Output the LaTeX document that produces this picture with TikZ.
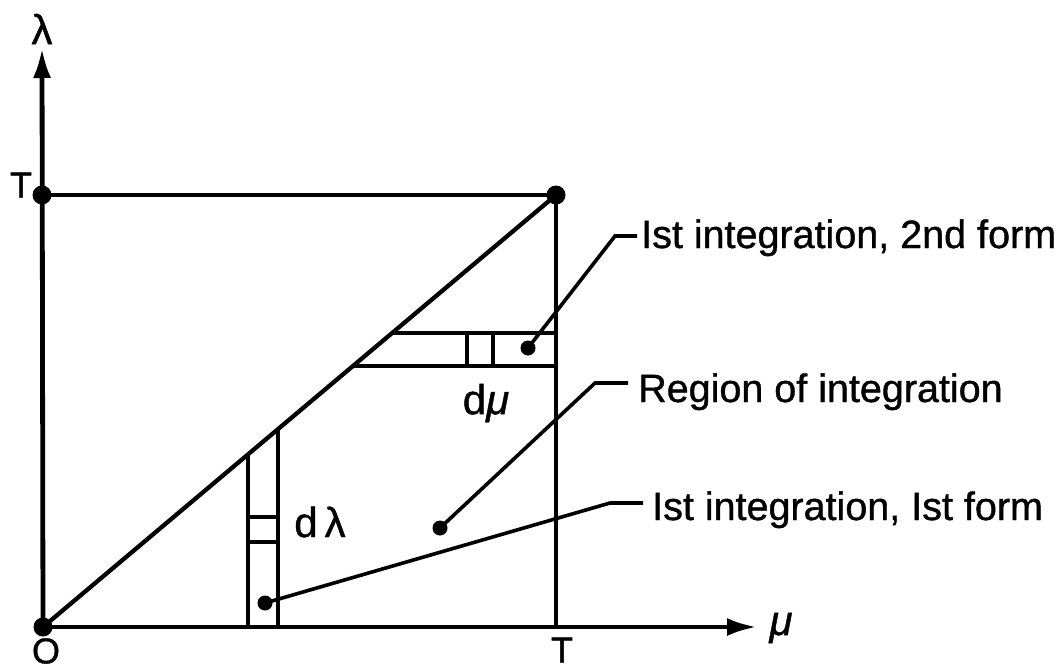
\documentclass[tikz,border=0pt]{standalone}
\usepackage{fontspec}
\setmainfont{Liberation Sans}
\newfontfamily\lett[FakeBold=1]{Liberation Sans}
\usetikzlibrary{arrows.meta}
\begin{document}
\begin{tikzpicture}[x=1pt,y=-1pt,
  ln/.style={line width=4.3pt},
  ax/.style={line width=4.8pt},
  lead/.style={line width=3.6pt},
  dotb/.style={circle,fill=black,inner sep=0pt,minimum size=19pt},
  dots/.style={circle,fill=black,inner sep=0pt,minimum size=15pt},
  lbl/.style={font=\lett\fontsize{39.5}{44}\selectfont,inner sep=0pt},
  sym/.style={font=\lett\fontsize{36}{40}\selectfont,inner sep=0pt},
  big/.style={font=\lett\fontsize{42}{46}\selectfont,inner sep=0pt},
  tipy/.style={-{Latex[length=30pt,width=18pt]}}]
\useasboundingbox (0,0) rectangle (1060,670);
% corner points
\node[dotb] (Od) at (43,627) {};
\node[dotb] (Td) at (42,195) {};
\node[dotb] (TT) at (556,195) {};
\coordinate (yend) at (42,48);
\coordinate (xend) at (757,627);
\coordinate (Tx) at (556,627);
% axes and square
\draw[ax,tipy] (Od.center) -- (yend);
\draw[ax,tipy] (Od.center) -- (xend);
\draw[ln] (Td.center) -- (TT.center);
\draw[ln] (Od.center) -- (TT.center);
\draw[ln] (TT.center) -- (Tx);
% horizontal strip
\draw[ln] (392.1,333) -- (556,333);
\draw[ln] (352.9,366) -- (556,366);
\draw[ln] (467,333) -- (467,366);
\draw[ln] (493,333) -- (493,366);
% vertical strip
\draw[ln] (248,454.4) -- (248,627);
\draw[ln] (278,429.1) -- (278,627);
\draw[ln] (248,517) -- (278,517);
\draw[ln] (248,542) -- (278,542);
% dots
\node[dots] (d1) at (528,348) {};
\node[dots] (d2) at (440,528) {};
\node[dots] (d3) at (265,603) {};
% labels
\node[lbl,anchor=base west] (L1) at (641,248) {Ist integration, 2nd form};
\node[lbl,anchor=base west] (L2) at (638,402) {Region of integration};
\node[lbl,anchor=base west] (L3) at (652,520) {Ist integration, Ist form};
% leaders
\coordinate (b1) at (615,236); \coordinate (h1) at (637,236);
\coordinate (b2) at (595,383); \coordinate (h2) at (628,383);
\coordinate (b3) at (610,503); \coordinate (h3) at (643,503);
\draw[lead] (d1.center) -- (b1) -- (h1);
\draw[lead] (d2.center) -- (b2) -- (h2);
\draw[lead] (d3.center) -- (b3) -- (h3);
% symbols
\node[big] (lam) at (42,29) {λ};
\node[big] (mu) at (781,628) {\itshape μ};
\node[sym] (Tl) at (21,185) {T};
\node[sym] (Ol) at (46,651) {O};
\node[sym] (Tb) at (562,650) {T};
\node[big] (dl) at (320,522) {d\,λ};
\node[big] (dm) at (486,403) {d\itshape μ};
\end{tikzpicture}
\end{document}
